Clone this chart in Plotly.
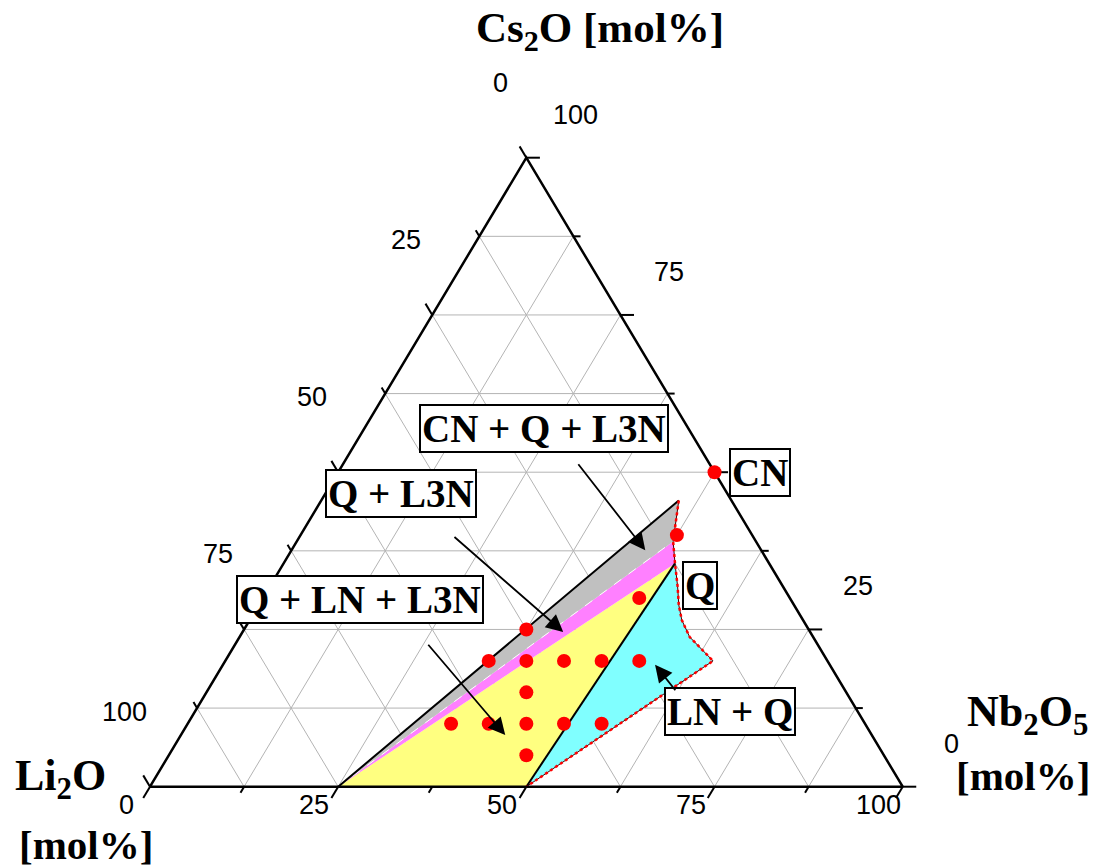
import plotly.graph_objects as go

# compositions are (Li2O, Cs2O, Nb2O5) in mol%
def tern(li, cs, nb):
    # map a ternary composition onto the flat x/y plane used for drawing
    return nb + cs / 2.0, cs

# measured samples (red dots)
dot_li = [0, 10, 20, 37.5, 45, 40, 35, 30, 25, 42.5, 55, 50, 45, 40, 35, 47.5]
dot_cs = [50, 40, 30, 25, 20, 20, 20, 20, 20, 15, 10, 10, 10, 10, 10, 5]
dot_nb = [50, 50, 50, 37.5, 35, 40, 45, 50, 55, 42.5, 35, 40, 45, 50, 55, 47.5]

# phase fields
gray_li = [75, 7, 11]
gray_cs = [0, 45.5, 39]
gray_nb = [25, 47.5, 50]

magenta_li = [75, 11, 12.5]
magenta_cs = [0, 39, 35.5]
magenta_nb = [25, 50, 52]

yellow_li = [75, 12.5, 50]
yellow_cs = [0, 35.5, 0]
yellow_nb = [25, 52, 50]

cyan_li = [50, 12.5, 14, 15.3, 16.1, 16.4, 15.7, 15.2]
cyan_cs = [0, 35.5, 31.8, 28.9, 26.5, 23.8, 21.7, 20]
cyan_nb = [50, 52, 54.2, 55.8, 57.4, 59.8, 62.6, 64.8]

# red dotted phase boundary
edge_li = [7, 11, 12.5, 14, 15.3, 16.1, 16.4, 15.7, 15.2, 50]
edge_cs = [45.5, 39, 35.5, 31.8, 28.9, 26.5, 23.8, 21.7, 20, 0]
edge_nb = [47.5, 50, 52, 54.2, 55.8, 57.4, 59.8, 62.6, 64.8, 50]

grid_step = 12.5
left_ticks = [0, 25, 50, 75, 100]     # Li2O
bottom_ticks = [0, 25, 50, 75, 100]   # Nb2O5
right_ticks = [0, 25, 75, 100]        # Cs2O

field_labels = ["CN + Q + L3N", "Q + L3N", "Q + LN + L3N", "LN + Q", "CN", "Q"]
label_li = [19.1, 43.3, 57.2, 16.9, -6.0, 10.9]
label_cs = [57.0, 46.6, 29.7, 12.0, 49.9, 32.0]
label_nb = [23.9, 10.1, 13.1, 71.1, 56.1, 57.1]

# arrows: tail -> head
arrow_tail = [(17.5, 51.5, 31.0), (39.8, 39.9, 20.3), (51.8, 22.8, 25.4), (22.5, 15.1, 62.4)]
arrow_head = [(15.4, 37.6, 47.0), (32.8, 24.6, 42.6), (48.7, 8.2, 43.1), (23.2, 19.4, 57.4)]

W, H, OFF = 1095, 859, 8   # page body keeps an 8px margin


def xy(lis, css, nbs):
    pts = [tern(a, b, c) for a, b, c in zip(lis, css, nbs)]
    return [p[0] for p in pts], [p[1] for p in pts]


fig = go.Figure()

# grid
gx, gy = [], []
n = int(100 / grid_step)
for k in range(1, n):
    v = k * grid_step
    for p, q in [((100 - v, v, 0), (0, v, 100 - v)),
                 ((v, 100 - v, 0), (v, 0, 100 - v)),
                 ((100 - v, 0, v), (0, 100 - v, v))]:
        x0, y0 = tern(*p)
        x1, y1 = tern(*q)
        gx += [x0, x1, None]
        gy += [y0, y1, None]
fig.add_trace(go.Scatter(x=gx, y=gy, mode="lines", line=dict(color="#b4b4b4", width=1), hoverinfo="skip"))

# phase fields
for lis, css, nbs, col in [(yellow_li, yellow_cs, yellow_nb, "#ffff80"),
                           (cyan_li, cyan_cs, cyan_nb, "#80ffff"),
                           (magenta_li, magenta_cs, magenta_nb, "#ff80ff"),
                           (gray_li, gray_cs, gray_nb, "#c0c0c0")]:
    x, y = xy(lis + lis[:1], css + css[:1], nbs + nbs[:1])
    fig.add_trace(go.Scatter(x=x, y=y, mode="lines", fill="toself", fillcolor=col,
                             line=dict(width=0, color=col), hoverinfo="skip"))

# boundaries
x, y = xy([gray_li[0], magenta_li[1]], [gray_cs[0], magenta_cs[1]], [gray_nb[0], magenta_nb[1]])
fig.add_trace(go.Scatter(x=x, y=y, mode="lines", line=dict(color="white", width=1, dash="dash")))
x, y = xy(gray_li[:2], gray_cs[:2], gray_nb[:2])
fig.add_trace(go.Scatter(x=x, y=y, mode="lines", line=dict(color="black", width=2)))
x, y = xy(yellow_li[1:], yellow_cs[1:], yellow_nb[1:])
fig.add_trace(go.Scatter(x=x, y=y, mode="lines", line=dict(color="black", width=2)))
x, y = xy(edge_li, edge_cs, edge_nb)
fig.add_trace(go.Scatter(x=x, y=y, mode="lines", line=dict(color="#400000", width=1)))
fig.add_trace(go.Scatter(x=x, y=y, mode="lines", line=dict(color="red", width=2.5, dash="dot")))

# triangle frame
x, y = xy([100, 0, 0, 100], [0, 100, 0, 0], [0, 0, 100, 0])
fig.add_trace(go.Scatter(x=x, y=y, mode="lines", line=dict(color="black", width=2.5)))

# ticks (along grid directions, outside)
tx, ty = [], []
for k in range(0, n + 1):
    v = k * grid_step
    d = 1.8 if v % 25 == 0 else 0.95
    for p, q in [((v, 100 - v, 0), (v, 100 - v + d, -d)),
                 ((0, v, 100 - v), (-d, v, 100 - v + d)),
                 ((100 - v, 0, v), (100 - v + d, -d, v))]:
        x0, y0 = tern(*p)
        x1, y1 = tern(*q)
        tx += [x0, x1, None]
        ty += [y0, y1, None]
fig.add_trace(go.Scatter(x=tx, y=ty, mode="lines", line=dict(color="black", width=2), cliponaxis=False))

# samples
x, y = xy(dot_li, dot_cs, dot_nb)
fig.add_trace(go.Scatter(x=x, y=y, mode="markers", marker=dict(color="red", size=14)))

tick_font = dict(family="Arial, Liberation Sans", size=27, color="black")
serif = "Times New Roman, Liberation Serif"
ann = []
for v in left_ticks:
    x0, y0 = tern(v, 100 - v, 0)
    ann.append(dict(x=x0, y=y0, text=str(v), showarrow=False, xshift=-26, yshift=75, font=tick_font))
for v in bottom_ticks:
    x0, y0 = tern(100 - v, 0, v)
    ann.append(dict(x=x0, y=y0, text=str(v), showarrow=False, xshift=-24, yshift=-18, font=tick_font))
for v in right_ticks:
    x0, y0 = tern(0, v, 100 - v)
    ann.append(dict(x=x0, y=y0, text=str(v), showarrow=False, xshift=49, yshift=43, font=tick_font))

for t, a, b, c in zip(field_labels, label_li, label_cs, label_nb):
    x0, y0 = tern(a, b, c)
    ann.append(dict(x=x0, y=y0, text="<b>" + t + "</b>", showarrow=False,
                    xanchor="center", yanchor="middle",
                    font=dict(family=serif, size=39, color="black"),
                    bgcolor="white", bordercolor="black", borderwidth=2, borderpad=1))

for tail, head in zip(arrow_tail, arrow_head):
    x0, y0 = tern(*tail)
    x1, y1 = tern(*head)
    ann.append(dict(x=x1, y=y1, ax=x0, ay=y0, axref="x", ayref="y", text="", showarrow=True,
                    arrowhead=2, arrowsize=1.9, arrowwidth=1.8, arrowcolor="black"))

for t, px, py, fs in [("<b>Cs<sub>2</sub>O [mol%]</b>", 600, 31, 43),
                      ("<b>Nb<sub>2</sub>O<sub>5</sub></b>", 1027, 714, 44),
                      ("<b>[mol%]</b>", 1023, 776, 41),
                      ("<b>Li<sub>2</sub>O</b>", 60, 778, 44),
                      ("<b>[mol%]</b>", 86, 845, 41)]:
    ann.append(dict(x=(px - OFF) / W, y=1 - (py - OFF) / H, xref="paper", yref="paper", text=t,
                    xanchor="center", yanchor="middle", showarrow=False,
                    font=dict(family=serif, size=fs, color="black")))

# x: 0 -> 150px, 100 -> 902.7px ; y: 0 -> 786.7px, 100 -> 157.7px (page pixels)
sx, sy = 7.527, 6.29
x_lo = -(150 - OFF) / sx
y_lo = -(H - (786.7 - OFF)) / sy
fig.update_layout(
    width=W, height=H,
    margin=dict(l=0, r=0, t=0, b=0),
    paper_bgcolor="white", plot_bgcolor="white",
    showlegend=False,
    xaxis=dict(visible=False, range=[x_lo, x_lo + W / sx]),
    yaxis=dict(visible=False, range=[y_lo, y_lo + H / sy]),
    annotations=ann,
)

fig.write_html("out.html")
